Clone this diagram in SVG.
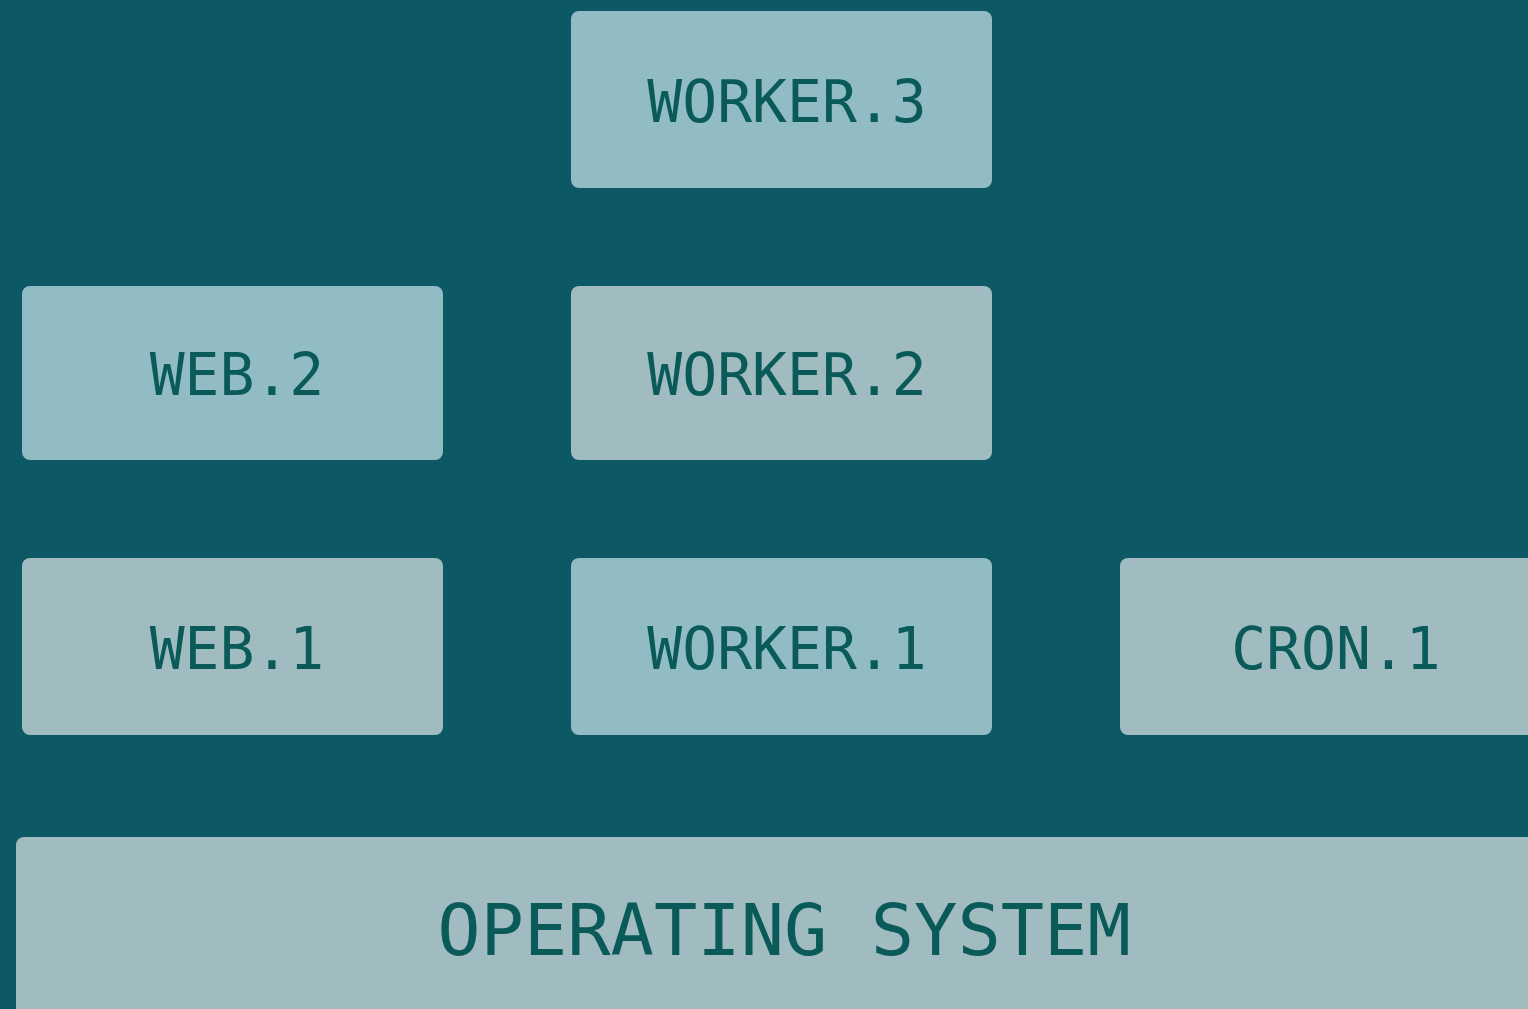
<svg xmlns="http://www.w3.org/2000/svg" width="1528" height="1009" viewBox="0 0 1528 1009">
<style>
.bg{fill:#0c5865}
.a{fill:#91bcc4}
.b{fill:#a0bcc0}
text{font-family:"DejaVu Sans Mono","Liberation Mono",monospace;font-size:58px;fill:#0b5a5a;text-anchor:middle}
.big{font-size:72px}
</style>
<rect class="bg" x="0" y="0" width="1528" height="1009"/>
<g id="worker3"><rect class="a" x="571" y="11" width="421" height="177" rx="8"/><text x="787" y="122">WORKER.3</text></g>
<g id="web2"><rect class="a" x="22" y="286" width="421" height="174" rx="8"/><text x="237" y="395">WEB.2</text></g>
<g id="worker2"><rect class="b" x="571" y="286" width="421" height="174" rx="8"/><text x="787" y="395">WORKER.2</text></g>
<g id="web1"><rect class="b" x="22" y="558" width="421" height="177" rx="8"/><text x="237" y="669">WEB.1</text></g>
<g id="worker1"><rect class="a" x="571" y="558" width="421" height="177" rx="8"/><text x="787" y="669">WORKER.1</text></g>
<g id="cron1"><rect class="b" x="1120" y="558" width="430" height="177" rx="8"/><text x="1336" y="669">CRON.1</text></g>
<g id="os"><rect class="b" x="16" y="837" width="1540" height="200" rx="8"/><text class="big" x="784" y="955">OPERATING SYSTEM</text></g>
<g id="connectors"></g>
</svg>
